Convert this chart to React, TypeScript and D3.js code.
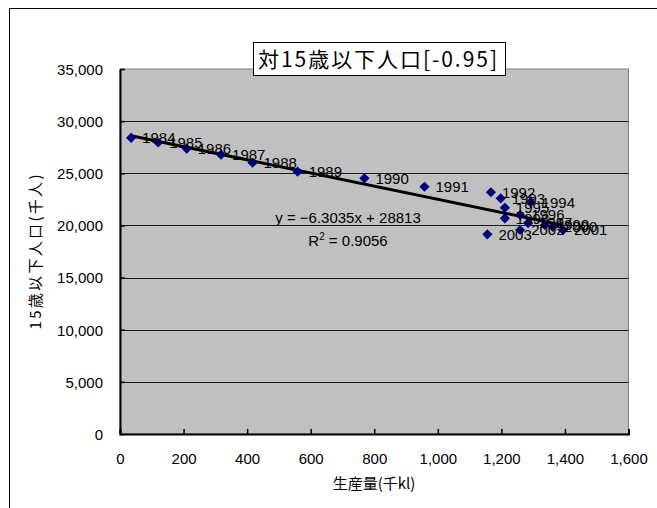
import React, { useEffect, useRef } from 'react';
import * as d3 from 'd3';

// Data
const years = [1984, 1985, 1986, 1987, 1988, 1989, 1990, 1991, 1992, 1993,
  1994, 1995, 1996, 1997, 1998, 1999, 2000, 2001, 2002, 2003];
const production = [35, 120, 210, 318, 417, 559, 769, 958, 1167, 1198,
  1292, 1211, 1259, 1284, 1211, 1337, 1362, 1394, 1259, 1156];
const population = [28400, 27950, 27360, 26780, 26010, 25150, 24520, 23710, 23180, 22600,
  22220, 21700, 21000, 20230, 20680, 20040, 19850, 19560, 19560, 19150];
const xTicks = [0, 200, 400, 600, 800, 1000, 1200, 1400, 1600];
const yTicks = [0, 5000, 10000, 15000, 20000, 25000, 30000, 35000];
const trendSlope = -6.3035;
const trendIntercept = 28813;
const trendR2 = 0.9056;

const NUM_FONT = '"Liberation Sans", Arial, sans-serif';
const JP_FONT = '"Noto Sans CJK JP", sans-serif';

const App = () => {
  const chartRef = useRef<SVGSVGElement>(null);

  useEffect(() => {
    const width = 657;
    const height = 508;
    const plot = { left: 120, top: 69, right: 628.5, bottom: 434 };

    const svg = d3.select(chartRef.current);
    svg.selectAll('*').remove();

    svg.append('rect')
      .attr('width', width)
      .attr('height', height)
      .attr('fill', 'white');

    // outer chart border (cropped on right and bottom)
    svg.append('rect')
      .attr('x', 9.5)
      .attr('y', 8.5)
      .attr('width', 700)
      .attr('height', 600)
      .attr('fill', 'none')
      .attr('stroke', 'black')
      .attr('stroke-width', 1);

    const x = d3.scaleLinear().domain([0, 1600]).range([plot.left, plot.right]);
    const y = d3.scaleLinear().domain([0, 35000]).range([plot.bottom, plot.top]);

    // plot area
    svg.append('rect')
      .attr('x', plot.left)
      .attr('y', plot.top)
      .attr('width', plot.right - plot.left)
      .attr('height', plot.bottom - plot.top)
      .attr('fill', '#c0c0c0')
      .attr('stroke', '#808080')
      .attr('stroke-width', 1);

    // gridlines
    svg.append('g')
      .selectAll('line')
      .data(yTicks.filter(d => d > 0 && d < 35000))
      .enter()
      .append('line')
      .attr('x1', plot.left)
      .attr('x2', plot.right)
      .attr('y1', d => Math.round(y(d)) + 0.5)
      .attr('y2', d => Math.round(y(d)) + 0.5)
      .attr('stroke', '#1a1a1a')
      .attr('stroke-width', 1);

    // X axis
    const fmt = d3.format(',');
    const xAxis = svg.append('g')
      .attr('transform', `translate(0,${plot.bottom})`)
      .call(d3.axisBottom(x).tickValues(xTicks).tickSize(-5).tickSizeOuter(-5).tickFormat(d => fmt(d as number)));
    xAxis.select('.domain').attr('stroke', 'black').attr('stroke-width', 2);
    xAxis.selectAll('.tick line').attr('stroke', 'black').attr('stroke-width', 1.5);
    xAxis.selectAll('.tick text')
      .attr('y', 0)
      .attr('dy', '30px')
      .attr('fill', 'black')
      .attr('font-family', NUM_FONT)
      .attr('font-size', '15px');

    // Y axis
    const yAxis = svg.append('g')
      .attr('transform', `translate(${plot.left},0)`)
      .call(d3.axisLeft(y).tickValues(yTicks).tickSize(-5).tickSizeOuter(0).tickFormat(d => fmt(d as number)));
    yAxis.select('.domain').attr('stroke', 'black').attr('stroke-width', 2);
    yAxis.selectAll('.tick line').attr('stroke', 'black').attr('stroke-width', 1.5);
    yAxis.selectAll('.tick text')
      .attr('x', -17)
      .attr('dy', '0.36em')
      .attr('fill', 'black')
      .attr('font-family', NUM_FONT)
      .attr('font-size', '15px');

    // Trendline
    const xMin = d3.min(production) as number;
    const xMax = d3.max(production) as number;
    svg.append('line')
      .attr('x1', x(xMin))
      .attr('y1', y(trendSlope * xMin + trendIntercept))
      .attr('x2', x(xMax))
      .attr('y2', y(trendSlope * xMax + trendIntercept))
      .attr('stroke', 'black')
      .attr('stroke-width', 3);

    // Points
    const diamond = d3.symbol().type(d3.symbolSquare).size(52);
    svg.append('g')
      .selectAll('path')
      .data(years)
      .enter()
      .append('path')
      .attr('d', diamond)
      .attr('transform', (d, i) => `translate(${x(production[i])},${y(population[i])}) rotate(45)`)
      .attr('fill', '#000080');

    // Point labels
    svg.append('g')
      .selectAll('text')
      .data(years)
      .enter()
      .append('text')
      .attr('x', (d, i) => x(production[i]) + 11)
      .attr('y', (d, i) => y(population[i]))
      .attr('dy', '0.36em')
      .attr('fill', 'black')
      .attr('font-family', NUM_FONT)
      .attr('font-size', '15px')
      .text(d => d);

    // Trendline equation
    svg.append('text')
      .attr('x', 348)
      .attr('y', 223)
      .attr('text-anchor', 'middle')
      .attr('fill', 'black')
      .attr('font-family', NUM_FONT)
      .attr('font-size', '15px')
      .text(`y = \u2212${Math.abs(trendSlope)}x + ${trendIntercept}`);

    const r2Text = svg.append('text')
      .attr('x', 348)
      .attr('y', 246)
      .attr('text-anchor', 'middle')
      .attr('fill', 'black')
      .attr('font-family', NUM_FONT)
      .attr('font-size', '15px');
    r2Text.append('tspan').text('R');
    r2Text.append('tspan').attr('font-size', '10px').attr('dy', '-6').text('2');
    r2Text.append('tspan').attr('dy', '6').text(` = ${trendR2}`);

    // Title
    svg.append('rect')
      .attr('x', 253.5)
      .attr('y', 42.5)
      .attr('width', 252)
      .attr('height', 33)
      .attr('fill', 'white')
      .attr('stroke', 'black')
      .attr('stroke-width', 1);
    svg.append('text')
      .attr('x', 258)
      .attr('y', 67)
      .attr('fill', 'black')
      .attr('font-family', JP_FONT)
      .attr('font-size', '21px')
      .attr('textLength', 239)
      .attr('lengthAdjust', 'spacing')
      .text('対15歳以下人口[-0.95]');

    // X Axis Label
    svg.append('text')
      .attr('x', 374)
      .attr('y', 489)
      .attr('text-anchor', 'middle')
      .attr('fill', 'black')
      .attr('font-family', JP_FONT)
      .attr('font-size', '15px')
      .text('生産量(千kl)');

    // Y Axis Label
    svg.append('text')
      .attr('transform', 'rotate(-90)')
      .attr('x', -252)
      .attr('y', 41)
      .attr('text-anchor', 'middle')
      .attr('fill', 'black')
      .attr('font-family', JP_FONT)
      .attr('font-size', '15px')
      .attr('textLength', 155)
      .attr('lengthAdjust', 'spacing')
      .text('15歳以下人口(千人)');
  }, []);

  return (
    <div style={{ position: 'absolute', left: 0, top: 0 }}>
      <svg ref={chartRef} width={657} height={508} style={{ display: 'block' }}></svg>
    </div>
  );
};

export default App;
